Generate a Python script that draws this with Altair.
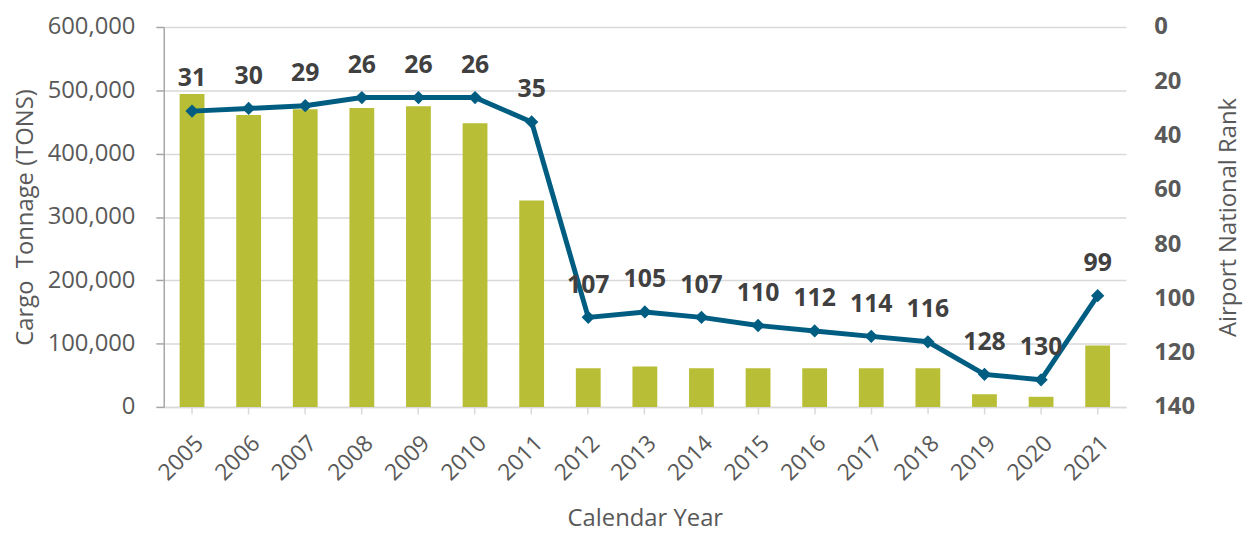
import altair as alt
import pandas as pd

years = [str(y) for y in range(2005, 2022)]
tonnage = [494000, 461000, 470000, 472000, 475000, 448000, 326000, 61000, 64000, 61000,
           61000, 61000, 61000, 61000, 20000, 16000, 97000]
ranks = [31, 30, 29, 26, 26, 26, 35, 107, 105, 107, 110, 112, 114, 116, 128, 130, 99]

df = pd.DataFrame({"year": years, "tonnage": tonnage, "rank": ranks})

FONT = "Open Sans"
GRAY = "#595959"
BAR = "#B8BE35"
LINE = "#005D82"

x = alt.X("year:N", title="Calendar Year",
          scale=alt.Scale(paddingInner=0.56, paddingOuter=0.28),
          axis=alt.Axis(labelAngle=-45, labelFontSize=23, labelColor=GRAY, labelFont=FONT,
                        titleFontSize=24, titleColor=GRAY, titleFont=FONT, titleFontWeight="normal",
                        titlePadding=22, domainColor="#D9D9D9", domainWidth=1.5,
                        tickColor="#D9D9D9", tickSize=7, tickWidth=1.5, labelPadding=18))

bars = alt.Chart(df).mark_bar(color=BAR, size=25).encode(
    x=x,
    y=alt.Y("tonnage:Q", title="Cargo\u00a0 Tonnage (TONS)",
            scale=alt.Scale(domain=[0, 600000]),
            axis=alt.Axis(values=[0, 100000, 200000, 300000, 400000, 500000, 600000],
                          labelExpr="format(datum.value, ',')",
                          labelFontSize=24, labelColor=GRAY, labelFont=FONT, labelPadding=21,
                          titleFontSize=24, titleColor=GRAY, titleFont=FONT, titleFontWeight="normal",
                          titlePadding=10, domainColor="#A6A6A6", domainWidth=1.5,
                          tickColor="#A6A6A6", tickSize=8, tickWidth=1.5,
                          gridColor="#D9D9D9", gridWidth=1.5)),
)

yr = alt.Y("rank:Q", title="Airport National Rank",
           scale=alt.Scale(domain=[0, 140], reverse=True),
           axis=alt.Axis(orient="right", values=[0, 20, 40, 60, 80, 100, 120, 140],
                         labelFontSize=24, labelColor=GRAY, labelFont=FONT, labelFontWeight="bold",
                         labelPadding=28, domain=False, ticks=False, grid=False,
                         titleFontSize=24, titleColor=GRAY, titleFont=FONT, titleFontWeight="normal",
                         titlePadding=22, titleAngle=270, titleBaseline="top"))

base = alt.Chart(df).encode(x=x, y=yr)
line = base.mark_line(color=LINE, strokeWidth=5)
points = base.mark_point(shape="diamond", filled=True, color=LINE, size=180, opacity=1)
labels = base.mark_text(dy=-33, fontSize=25, fontWeight="bold", color="#404040", font=FONT).encode(
    text="rank:Q")

right = alt.layer(line, points, labels)

chart = alt.layer(bars, right).resolve_scale(y="independent").properties(
    width=970, height=383
).configure_view(stroke=None)

chart.save("out.html", embed_options={"renderer": "svg", "actions": False})
